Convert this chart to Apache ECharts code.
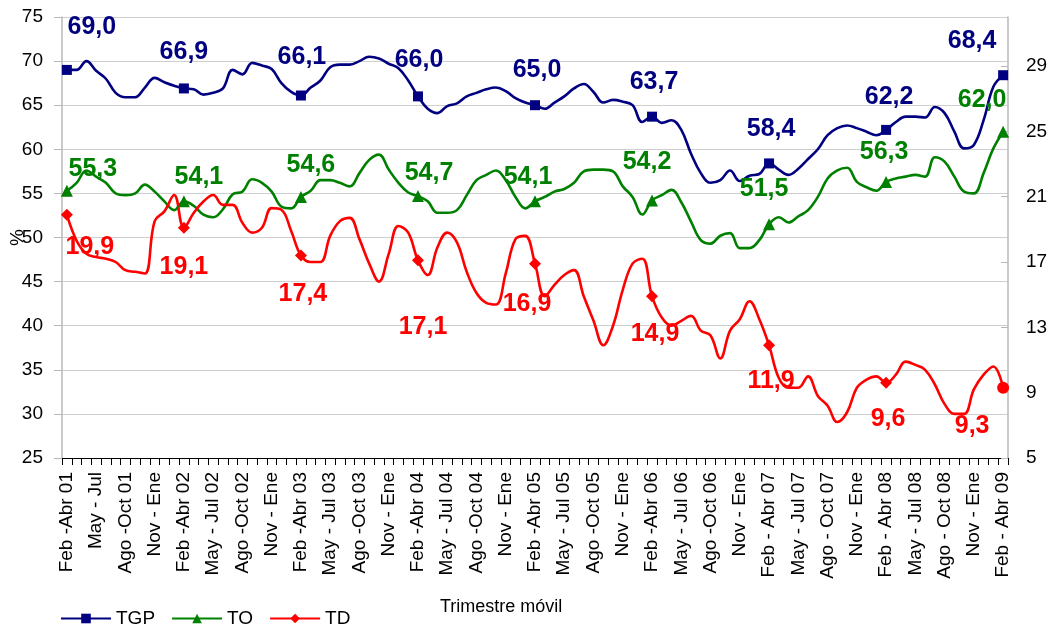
<!DOCTYPE html>
<html>
<head>
<meta charset="utf-8">
<title>TGP, TO, TD - Trimestre móvil</title>
<script src="https://cdn.jsdelivr.net/npm/echarts@6/dist/echarts.min.js"></script>
<style>
    html, body { margin: 0; padding: 0; background: #fff; }
    #chart { width: 1053px; height: 628px; }
</style>
</head>
<body>
<div id="chart"></div>
<script>
    // meses para los nombres de los trimestres moviles
    var meses = ['Ene', 'Feb', 'Mar', 'Abr', 'May', 'Jun', 'Jul', 'Ago', 'Sep', 'Oct', 'Nov', 'Dic'];
    var categories = [];
    for (var i = 0; i < 97; i++) {
        var m = 1 + i;
        var yr = 2001 + Math.floor((m + 2) / 12);
        categories.push(meses[m % 12] + '-' + meses[(m + 2) % 12] + ' ' + String(yr).slice(2));
    }

    // etiquetas del eje x (una cada 3 trimestres)
    var tickLabels = [
        'Feb -Abr 01', 'May - Jul', 'Ago -Oct 01', 'Nov - Ene',
        'Feb -Abr 02', 'May - Jul 02', 'Ago -Oct 02', 'Nov - Ene',
        'Feb -Abr 03', 'May - Jul 03', 'Ago -Oct 03', 'Nov - Ene',
        'Feb -Abr 04', 'May - Jul 04', 'Ago -Oct 04', 'Nov - Ene',
        'Feb -Abr 05', 'May - Jul 05', 'Ago -Oct 05', 'Nov - Ene',
        'Feb -Abr 06', 'May - Jul 06', 'Ago -Oct 06', 'Nov - Ene',
        'Feb - Abr 07', 'May - Jul 07', 'Ago - Oct 07', 'Nov - Ene',
        'Feb - Abr 08', 'May - Jul 08', 'Ago - Oct 08', 'Nov - Ene',
        'Feb - Abr 09'
    ];

    var tgp = [
        69.0, 69.0, 70.0, 68.9, 68.0, 66.4, 65.9, 65.9, 67.0, 68.1,
        67.6, 67.2, 66.9, 66.8, 66.2, 66.4, 66.9, 69.0, 68.5, 69.8,
        69.5, 69.1, 67.5, 66.5, 66.1, 67.0, 67.8, 69.3, 69.6, 69.6,
        70.0, 70.5, 70.3, 69.7, 69.2, 67.8, 66.0, 64.6, 64.1, 64.9,
        65.2, 66.0, 66.4, 66.8, 67.0, 66.6, 65.8, 65.3, 65.0, 64.6,
        65.3, 66.0, 66.9, 67.4, 66.5, 65.3, 65.6, 65.4, 65.0, 63.1,
        63.7, 63.0, 63.3, 62.2, 59.5, 57.3, 56.2, 56.5, 57.6, 56.4,
        57.0, 57.2, 58.4, 57.7, 57.1, 57.8, 58.9, 60.0, 61.6, 62.4,
        62.7, 62.4, 62.0, 61.6, 62.2, 63.1, 63.7, 63.7, 63.6, 64.8,
        64.1, 62.0, 60.1, 60.5, 63.3, 67.1, 68.4
    ];
    var to = [
        55.3, 56.2, 57.6, 56.9, 56.2, 55.0, 54.8, 55.0, 56.0, 55.2,
        54.1, 53.1, 54.1, 53.6, 52.6, 52.3, 53.2, 54.9, 55.2, 56.6,
        56.2, 55.2, 53.5, 53.3, 54.6, 55.3, 56.5, 56.5, 56.2, 55.8,
        57.3, 58.8, 59.4, 57.7, 56.2, 55.1, 54.7, 54.1, 52.8, 52.8,
        53.1, 54.8, 56.5, 57.1, 57.6, 56.5, 54.6, 53.3, 54.1, 54.6,
        55.2, 55.5, 56.2, 57.5, 57.7, 57.7, 57.5, 55.8, 54.6, 52.6,
        54.2, 54.8, 55.4, 54.0, 51.8, 49.7, 49.3, 50.2, 50.5, 48.8,
        48.8, 49.7, 51.5, 52.3, 51.7, 52.4, 53.1, 54.6, 56.7, 57.6,
        57.9, 56.3, 55.7, 55.3, 56.3, 56.7, 56.9, 57.1, 56.9, 59.1,
        58.6, 56.9, 55.2, 55.0, 57.3, 60.1, 62.0
    ];
    var td = [
        19.9, 18.3, 17.5, 17.3, 17.2, 17.0, 16.5, 16.4, 16.3, 19.5,
        20.1, 21.1, 19.1, 20.0, 20.7, 21.1, 20.5, 20.5, 19.4, 18.8,
        19.1, 20.3, 20.2, 18.9, 17.4, 17.0, 17.0, 18.6, 19.5, 19.7,
        18.4, 16.9, 15.8, 17.5, 19.2, 18.8, 17.1, 16.2, 17.9, 18.8,
        18.2, 16.4, 15.1, 14.5, 14.4, 16.3, 18.4, 18.6, 16.9, 14.9,
        15.6, 16.2, 16.5, 14.9, 13.4, 11.9, 13.1, 15.3, 16.9, 17.2,
        14.9, 13.6, 13.1, 13.4, 13.7, 12.8, 12.5, 11.1, 12.8, 13.5,
        14.6, 13.5, 11.9, 9.9, 9.3, 9.3, 10.0, 8.8, 8.2, 7.2,
        7.8, 9.3, 9.8, 10.0, 9.6, 10.1, 10.9, 10.7, 10.4, 9.5,
        8.3, 7.7, 7.7, 9.2, 10.1, 10.6, 9.3
    ];

    // puntos con marcador y etiqueta (Feb-Abr de cada año)
    var markIdx = [0, 12, 24, 36, 48, 60, 72, 84, 96];

    // desplazamiento de las etiquetas respecto del marcador
    var tgpOff = [[25, -43], [0, -36], [1, -38], [1, -36], [2, -35], [2, -35], [2, -34], [3, -33], [-31, -34]];
    var toOff = [[26, -22], [15, -24], [10, -32], [11, -23], [-7, -24], [-5, -38], [-5, -35], [-2, -30], [-21, -32]];
    var tdOff = [[23, 32], [0, 39], [2, 39], [5, 67], [-8, 40], [3, 38], [2, 36], [2, 36], [-31, 38]];

    var fontFam = '"Liberation Sans", Arial, sans-serif';

    function buildData(values, offs, lastSymbol) {
        return values.map(function (v, i) {
            var k = markIdx.indexOf(i);
            if (k < 0) return v;
            var item = { value: v, label: { show: true, offset: offs[k] } };
            if (lastSymbol && i === values.length - 1) item.symbol = lastSymbol;
            return item;
        });
    }

    function markSize(size) {
        return function (val, params) {
            return markIdx.indexOf(params.dataIndex) < 0 ? 0 : size;
        };
    }

    function valLabel(color) {
        return {
            show: false,
            position: 'inside',
            color: color,
            fontSize: 25,
            fontWeight: 'bold',
            fontFamily: fontFam,
            formatter: function (p) {
                return p.value.toFixed(1).replace('.', ',');
            }
        };
    }

    var myChart = echarts.init(document.getElementById('chart'));
    myChart.setOption({
        animation: false,
        backgroundColor: '#fff',
        textStyle: { fontFamily: fontFam },
        grid: { left: 62, right: 45, top: 17, bottom: 170, outerBoundsMode: 'none' },
        legend: {
            data: ['TGP', 'TO', 'TD'],
            left: 55,
            top: 604,
            itemWidth: 50,
            itemHeight: 12,
            itemGap: 16,
            textStyle: { color: '#000', fontSize: 19, fontFamily: fontFam }
        },
        graphic: [{
            type: 'text',
            left: 440,
            top: 598,
            style: { text: 'Trimestre móvil', fontSize: 18, fill: '#000', fontFamily: fontFam }
        }],
        xAxis: {
            type: 'category',
            data: categories,
            boundaryGap: true,
            axisLine: { lineStyle: { color: '#000', width: 1 } },
            axisTick: { show: true, interval: 0, length: 7, lineStyle: { color: '#000' } },
            axisLabel: {
                interval: 2,
                rotate: 90,
                margin: 14,
                color: '#000',
                fontSize: 19,
                fontFamily: fontFam,
                formatter: function (val, idx) {
                    return tickLabels[Math.round(idx / 3)] || '';
                }
            },
            splitLine: { show: false }
        },
        yAxis: [{
            type: 'value',
            min: 25,
            max: 75,
            interval: 5,
            name: '%',
            nameLocation: 'middle',
            nameRotate: 90,
            nameGap: 35,
            nameMoveOverlap: false,
            nameTextStyle: { color: '#000', fontSize: 19, fontFamily: fontFam },
            axisLine: { show: true, lineStyle: { color: '#b8b8b8', width: 1.5 } },
            axisTick: { show: true, length: 8, lineStyle: { color: '#b8b8b8' } },
            axisLabel: { color: '#000', fontSize: 19, margin: 19, fontFamily: fontFam },
            splitLine: { show: true, lineStyle: { color: '#cfcfcf', width: 1 } }
        }, {
            type: 'value',
            min: 5,
            max: 32,
            interval: 4,
            position: 'right',
            axisLine: { show: true, lineStyle: { color: '#b8b8b8', width: 1.5 } },
            axisTick: { show: true, inside: true, length: 7, lineStyle: { color: '#b8b8b8' } },
            axisLabel: { color: '#000', fontSize: 19, margin: 18, showMaxLabel: false, fontFamily: fontFam },
            splitLine: { show: false }
        }],
        series: [{
            name: 'TGP',
            type: 'line',
            yAxisIndex: 0,
            smooth: 0.4,
            showAllSymbol: true,
            symbol: 'rect',
            symbolSize: markSize(10),
            lineStyle: { color: '#000080', width: 2.6 },
            itemStyle: { color: '#000080' },
            label: valLabel('#000080'),
            data: buildData(tgp, tgpOff)
        }, {
            name: 'TO',
            type: 'line',
            yAxisIndex: 0,
            smooth: 0.4,
            showAllSymbol: true,
            symbol: 'triangle',
            symbolSize: markSize(12),
            lineStyle: { color: '#008000', width: 2.6 },
            itemStyle: { color: '#008000' },
            label: valLabel('#008000'),
            data: buildData(to, toOff)
        }, {
            name: 'TD',
            type: 'line',
            yAxisIndex: 1,
            smooth: 0.4,
            showAllSymbol: true,
            symbol: 'diamond',
            symbolSize: markSize(12),
            lineStyle: { color: '#ff0000', width: 2.6 },
            itemStyle: { color: '#ff0000' },
            label: valLabel('#ff0000'),
            data: buildData(td, tdOff, 'circle')
        }]
    });
</script>
</body>
</html>
